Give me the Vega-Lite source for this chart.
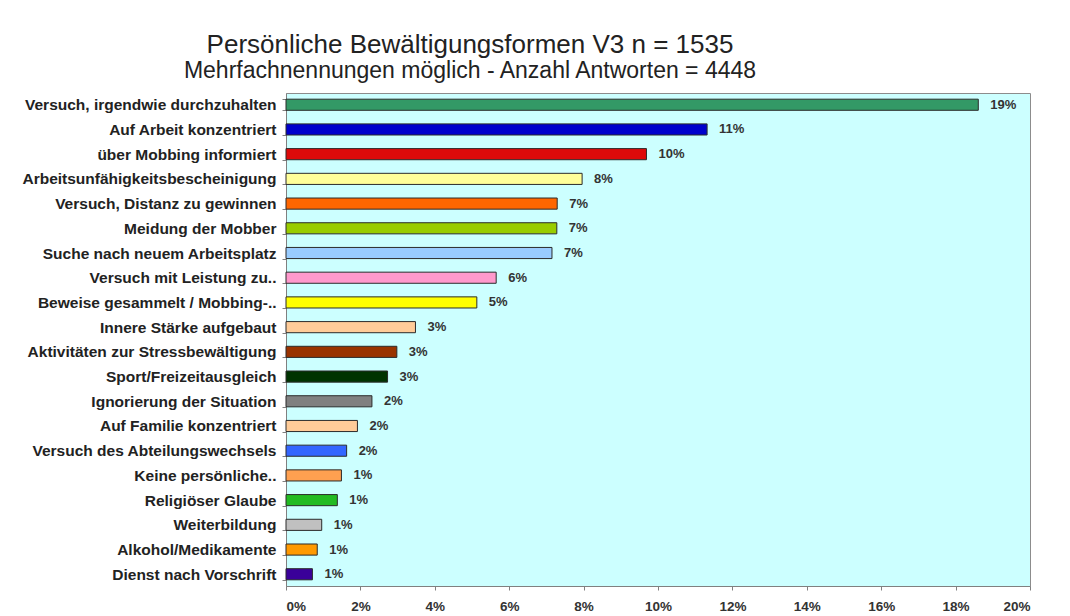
{
  "$schema": "https://vega.github.io/schema/vega-lite/v6.json",
  "autosize": "none",
  "width": 744,
  "height": 493,
  "padding": {"left": 286, "top": 93, "right": 40, "bottom": 30},
  "background": "white",
  "title": {
    "text": "Persönliche Bewältigungsformen V3 n = 1535",
    "subtitle": "Mehrfachnennungen möglich - Anzahl Antworten = 4448",
    "anchor": "middle",
    "dx": -188,
    "offset": 3,
    "font": "Liberation Sans",
    "fontSize": 26,
    "fontWeight": "normal",
    "color": "#222222",
    "subtitleFont": "Liberation Sans",
    "subtitleFontSize": 23,
    "subtitleColor": "#222222",
    "subtitlePadding": 2
  },
  "config": {
    "view": {"fill": "#ccffff", "stroke": "#8c8c8c", "strokeWidth": 1},
    "axis": {"grid": false, "domainColor": "#808080", "tickColor": "#808080"}
  },
  "data": {
    "values": [
      {"Form": "Versuch, irgendwie durchzuhalten", "Anteil": 0.1861},
      {"Form": "Auf Arbeit konzentriert", "Anteil": 0.1132},
      {"Form": "über Mobbing informiert", "Anteil": 0.0969},
      {"Form": "Arbeitsunfähigkeitsbescheinigung", "Anteil": 0.0796},
      {"Form": "Versuch, Distanz zu gewinnen", "Anteil": 0.0729},
      {"Form": "Meidung der Mobber", "Anteil": 0.0728},
      {"Form": "Suche nach neuem Arbeitsplatz", "Anteil": 0.0715},
      {"Form": "Versuch mit Leistung zu..", "Anteil": 0.0565},
      {"Form": "Beweise gesammelt / Mobbing-..", "Anteil": 0.0513},
      {"Form": "Innere Stärke aufgebaut", "Anteil": 0.0348},
      {"Form": "Aktivitäten zur Stressbewältigung", "Anteil": 0.0298},
      {"Form": "Sport/Freizeitausgleich", "Anteil": 0.0273},
      {"Form": "Ignorierung der Situation", "Anteil": 0.0231},
      {"Form": "Auf Familie konzentriert", "Anteil": 0.0192},
      {"Form": "Versuch des Abteilungswechsels", "Anteil": 0.0163},
      {"Form": "Keine persönliche..", "Anteil": 0.0149},
      {"Form": "Religiöser Glaube", "Anteil": 0.0138},
      {"Form": "Weiterbildung", "Anteil": 0.0096},
      {"Form": "Alkohol/Medikamente", "Anteil": 0.0084},
      {"Form": "Dienst nach Vorschrift", "Anteil": 0.0071}
    ]
  },
  "encoding": {
    "y": {
      "field": "Form",
      "type": "nominal",
      "sort": null,
      "title": null,
      "scale": {"paddingInner": 0.55, "paddingOuter": 0.25},
      "axis": {
        "labelFont": "Liberation Sans",
        "labelFontSize": 15.5,
        "labelFontWeight": "bold",
        "labelColor": "#222222",
        "labelPadding": 6,
        "tickBand": "extent",
        "tickSize": 4,
        "labelLimit": 300
      }
    },
    "x": {
      "field": "Anteil",
      "type": "quantitative",
      "title": null,
      "scale": {"domain": [0, 0.2], "nice": false},
      "axis": {
        "values": [0, 0.02, 0.04, 0.06, 0.08, 0.1, 0.12, 0.14, 0.16, 0.18, 0.2],
        "format": ".0%",
        "labelFont": "Liberation Sans",
        "labelFontSize": 13.5,
        "labelFontWeight": "bold",
        "labelColor": "#333333",
        "labelPadding": 9,
        "tickSize": 4
      }
    }
  },
  "layer": [
    {
      "mark": {"type": "bar", "stroke": "#2b2b2b", "strokeWidth": 1},
      "encoding": {
        "color": {
          "field": "Form",
          "type": "nominal",
          "legend": null,
          "scale": {
            "domain": [
              "Versuch, irgendwie durchzuhalten",
              "Auf Arbeit konzentriert",
              "über Mobbing informiert",
              "Arbeitsunfähigkeitsbescheinigung",
              "Versuch, Distanz zu gewinnen",
              "Meidung der Mobber",
              "Suche nach neuem Arbeitsplatz",
              "Versuch mit Leistung zu..",
              "Beweise gesammelt / Mobbing-..",
              "Innere Stärke aufgebaut",
              "Aktivitäten zur Stressbewältigung",
              "Sport/Freizeitausgleich",
              "Ignorierung der Situation",
              "Auf Familie konzentriert",
              "Versuch des Abteilungswechsels",
              "Keine persönliche..",
              "Religiöser Glaube",
              "Weiterbildung",
              "Alkohol/Medikamente",
              "Dienst nach Vorschrift"
            ],
            "range": [
              "#339966", "#0000cc", "#dd0a0a", "#ffff99", "#ff6600",
              "#99cc00", "#99ccff", "#ff99cc", "#ffff00", "#ffcc99",
              "#993300", "#003300", "#808080", "#ffcc99", "#3366ff",
              "#ffa050", "#22bb22", "#c0c0c0", "#ff9900", "#3a0099"
            ]
          }
        }
      }
    },
    {
      "mark": {
        "type": "text",
        "align": "left",
        "baseline": "middle",
        "dx": 12,
        "font": "Liberation Sans",
        "fontSize": 13,
        "fontWeight": "bold",
        "color": "#333333"
      },
      "encoding": {
        "text": {"field": "Anteil", "type": "quantitative", "format": ".0%"}
      }
    }
  ]
}
